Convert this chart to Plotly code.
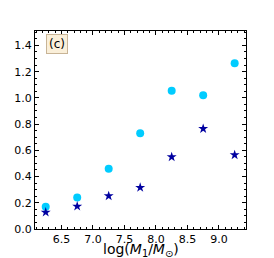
import plotly.graph_objects as go

x_vals = [6.25, 6.75, 7.25, 7.75, 8.25, 8.75, 9.25]
circle_vals = [0.17, 0.24, 0.46, 0.73, 1.055, 1.02, 1.265]
star_vals = [0.127, 0.173, 0.252, 0.316, 0.55, 0.765, 0.565]
panel_label = "(c)"
x_title = "log(<i>M</i><sub>1</sub>/<i>M</i><sub>⊙</sub>)"

fig = go.Figure()
fig.add_trace(go.Scatter(x=x_vals, y=circle_vals, mode="markers",
                         marker=dict(symbol="circle", size=8, color="#00ccff"),
                         showlegend=False))
fig.add_trace(go.Scatter(x=x_vals, y=star_vals, mode="markers",
                         marker=dict(symbol="star", size=7.5, color="#0000a0"),
                         showlegend=False))

axis_common = dict(
    showgrid=False, zeroline=False, showline=True, linecolor="black", linewidth=1,
    mirror="ticks", ticks="inside", ticklen=4, tickwidth=1, tickcolor="black",
    tickfont=dict(family="DejaVu Sans", size=11, color="black"), automargin=False,
)

fig.update_xaxes(range=[6.08, 9.43], dtick=0.5, tick0=6.5, tickformat=".1f",
                 minor=dict(ticks="inside", ticklen=2, dtick=0.1, tickcolor="black"),
                 **axis_common)
fig.update_yaxes(range=[0, 1.51], dtick=0.2, tick0=0, tickformat=".1f",
                 minor=dict(ticks="inside", ticklen=2, dtick=0.05, tickcolor="black"),
                 **axis_common)

fig.add_annotation(x=0.05, y=0.985, xref="paper", yref="paper", xanchor="left", yanchor="top",
                   text=panel_label, showarrow=False,
                   font=dict(family="DejaVu Sans", size=12, color="black"),
                   bgcolor="#faefd9", bordercolor="#c8b496", borderwidth=1, borderpad=2)

fig.add_annotation(x=0.5, y=-0.105, xref="paper", yref="paper", xanchor="center", yanchor="middle",
                   text=x_title, showarrow=False,
                   font=dict(family="DejaVu Sans", size=14, color="black"))

fig.update_layout(width=274, height=258, margin=dict(l=35, r=28, t=31, b=29),
                  plot_bgcolor="white", paper_bgcolor="white")

fig.write_html("out.html", config={"displayModeBar": False},
               post_script="document.body.style.margin='0';document.body.style.padding='0';document.body.style.overflow='hidden';")
